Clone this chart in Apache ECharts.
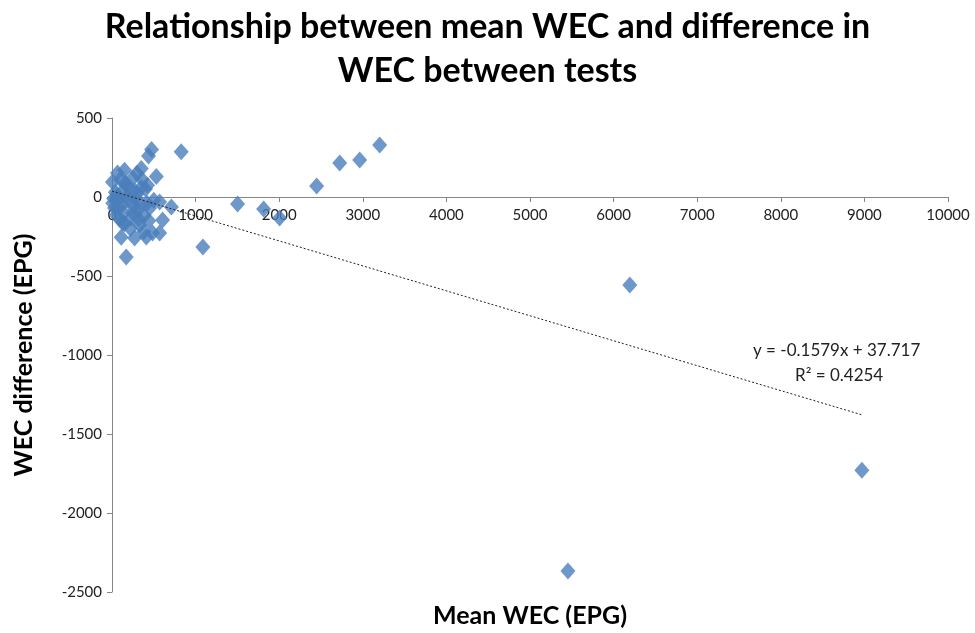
<!DOCTYPE html>
<html>
<head>
<meta charset="utf-8">
<script src="https://cdn.jsdelivr.net/npm/echarts@6/dist/echarts.min.js"></script>
<style>html,body{margin:0;padding:0;background:#fff}#c{width:975px;height:633px}</style>
</head>
<body>
<div id="c"></div>
<script>
// Data
const xTicks = [0, 1000, 2000, 3000, 4000, 5000, 6000, 7000, 8000, 9000, 10000];
const yTicks = [-2500, -2000, -1500, -1000, -500, 0, 500];
const meanWEC = [20, 40, 10, 60, 80, 100, 110, 130, 150, 170, 170, 200, 230, 250, 270, 300, 310, 330, 350, 360,
  380, 400, 410, 425, 437, 450, 473, 485, 500, 530, 570, 570, 605, 710, 828, 50, 66, 6, 120, 140,
  180, 200, 220, 260, 280, 300, 320, 340, 90, 150, 60, 30, 120, 250, 380, 440, 350, 420, 270, 160,
  1087, 1502, 1814, 2005, 2448, 2724, 2963, 3202, 5454, 6194, 8970];
const wecDiff = [-10, 30, -40, 10, -60, 110, -255, -165, 170, -380, 75, -20, -133, 120, 40, 150, -80, -177, 180, 110,
  -120, 50, -253, 75, 260, -70, 300, -228, -20, 130, -228, -32, -146, -63, 287, -114, 152, 95, -50, -100,
  0, 60, -200, -60, -10, 20, -140, -40, -140, -170, -20, -70, 30, -100, -220, -150, 60, -40, -260, 90,
  -316, -44, -76, -133, 70, 215, 234, 329, -2367, -557, -1730];
const trendSlope = -0.1579;
const trendIntercept = 37.717;
const trendXRange = [0, 8970];
const trendLabel = ['y = -0.1579x + 37.717', 'R\u00b2 = 0.4254'];

const points = meanWEC.map((x, i) => [x, wecDiff[i]]);
const trend = trendXRange.map(x => [x, trendSlope * x + trendIntercept]);

const chart = echarts.init(document.getElementById('c'), null, {renderer: 'canvas'});
const font = 'Lato, "Open Sans", sans-serif';
const gridTop = 118, gridBottom = 41, H = 633;
const yMin = yTicks[0], yMax = yTicks[yTicks.length - 1];
const plotH = H - gridTop - gridBottom;
// distance of value 0 from the bottom of the plot, so the x axis crosses at y = 0
const zeroFromBottom = plotH * (0 - yMin) / (yMax - yMin);

chart.setOption({
  animation: false,
  title: {
    text: 'Relationship between mean WEC and difference in\nWEC between tests',
    left: 'center', top: 0,
    textStyle: {fontFamily: font, fontWeight: 'bold', fontSize: 34, lineHeight: 44, color: '#000'}
  },
  grid: {left: 112, right: 27, top: gridTop, bottom: gridBottom, containLabel: false, outerBoundsMode: 'none'},
  xAxis: {
    type: 'value', min: xTicks[0], max: xTicks[xTicks.length - 1], interval: 1000,
    offset: -zeroFromBottom,
    name: 'Mean WEC (EPG)', nameLocation: 'middle', nameGap: zeroFromBottom + 11,
    nameTextStyle: {fontFamily: font, fontWeight: 'bold', fontSize: 25, color: '#000'},
    axisLine: {onZero: false, lineStyle: {color: '#868686', width: 1}},
    axisTick: {show: true, length: 5, inside: false, lineStyle: {color: '#868686'}},
    axisLabel: {fontFamily: font, fontSize: 15, color: '#222', margin: 11, formatter: v => String(v)},
    splitLine: {show: false}
  },
  yAxis: {
    type: 'value', min: yMin, max: yMax, interval: 500,
    name: 'WEC difference (EPG)', nameLocation: 'middle', nameGap: 76, nameRotate: 90,
    nameTextStyle: {fontFamily: font, fontWeight: 'bold', fontSize: 25, color: '#000'},
    axisLine: {show: true, onZero: false, lineStyle: {color: '#868686', width: 1}},
    axisTick: {show: true, length: 5, lineStyle: {color: '#868686'}},
    axisLabel: {fontFamily: font, fontSize: 15, color: '#222', margin: 10, formatter: v => String(v)},
    splitLine: {show: false}
  },
  series: [
    {
      type: 'scatter', data: points, symbol: 'diamond', symbolSize: [15, 17],
      itemStyle: {color: '#4a7ebb'}, z: 3
    },
    {
      type: 'line', data: trend, symbol: 'none', z: 4,
      lineStyle: {color: '#222', width: 1, type: [2, 2]}
    }
  ],
  graphic: [
    {type: 'text', left: 753, top: 342, style: {text: trendLabel[0], font: '17px ' + font, fill: '#222'}},
    {type: 'text', left: 795, top: 367, style: {text: trendLabel[1], font: '17px ' + font, fill: '#222'}}
  ]
});
</script>
</body>
</html>
